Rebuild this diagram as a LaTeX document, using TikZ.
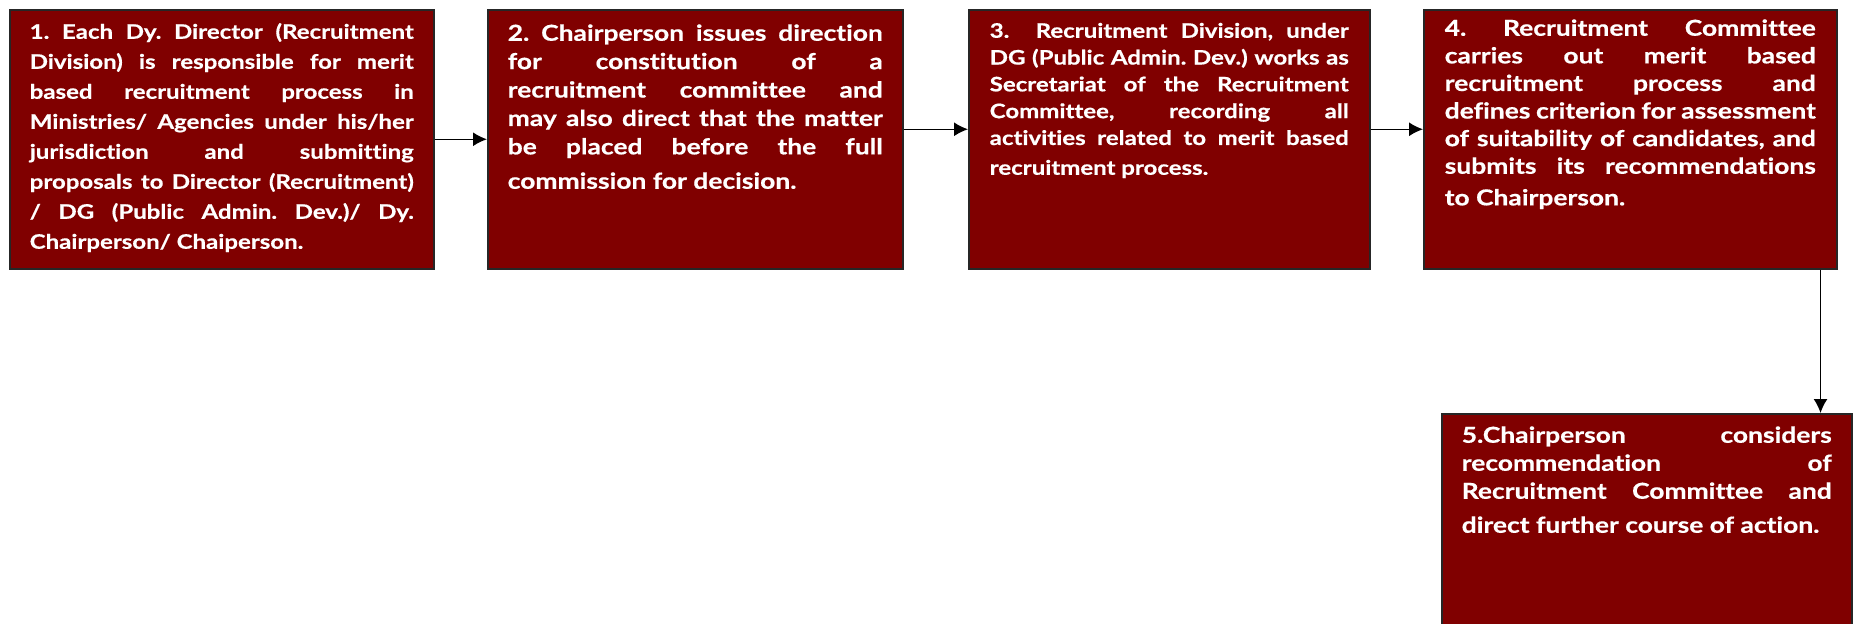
\documentclass[tikz,border=0pt]{standalone}
\usepackage{fontspec}
\newfontfamily\flowfont{Lato}[FakeStretch=1.2, FakeBold=0.6, Ligatures=NoCommon]
\usetikzlibrary{arrows.meta}
\definecolor{boxred}{RGB}{128,0,0}
\newcommand\lastgap[1]{\vadjust{\vskip#1}}

\begin{document}
\begin{tikzpicture}[
    stepbox/.style={
        draw=black!85, line width=0.75pt, fill=boxred, text=white,
        anchor=north west, align=justify, inner ysep=0pt,
        execute at begin node={\tolerance=10000\hyphenpenalty=10000\frenchspacing},
        font=\flowfont\bfseries\fontsize{11pt}{#1}\selectfont
    },
    stepbox/.default=14pt,
    smaller/.style={font=\flowfont\bfseries\fontsize{10pt}{#1}\selectfont},
    flow/.style={-{Latex[length=7pt,width=7pt]}, line width=0.75pt}
]
\useasboundingbox (0,0) rectangle (928pt,-311.5pt);

% top row
\node[stepbox, smaller=15pt, inner xsep=10pt, text width=192pt, text height=14.5pt, text depth=115pt]
    (step1) at (4.5pt,-4.5pt) {1. Each Dy. Director (Recruitment\linebreak
    Division) is responsible for merit\linebreak
    based recruitment process in\linebreak
    Ministries/ Agencies under his/her\linebreak
    jurisdiction and submitting\linebreak
    proposals to Director (Recruitment)\linebreak
    / DG (Public Admin. Dev.)/ Dy.\linebreak
    Chairperson/ Chaiperson.};
\node[stepbox=14.2pt, inner xsep=10pt, text width=187.5pt, text height=15.5pt, text depth=114pt]
    (step2) at (243.5pt,-4.5pt) {2. Chairperson issues direction\linebreak
    for constitution of a\linebreak
    recruitment committee and\linebreak
    may also direct that the matter\linebreak
    be placed before the full\lastgap{3pt}\linebreak
    commission for decision.};
\node[stepbox, smaller=13.4pt, inner xsep=10.5pt, text width=179.5pt, text height=14pt, text depth=115.5pt]
    (step3) at (484pt,-4.5pt) {3. \ Recruitment Division, under\linebreak
    DG (Public Admin. Dev.) works as\linebreak
    Secretariat of the Recruitment\linebreak
    Committee, recording all\linebreak
    activities related to merit based\lastgap{1.5pt}\linebreak
    recruitment process.};
\node[stepbox=13.8pt, inner xsep=10.5pt, text width=185.5pt, text height=13pt, text depth=116.5pt]
    (step4) at (711.5pt,-4.5pt) {4. Recruitment Committee\linebreak
    carries out merit based\linebreak
    recruitment process and\linebreak
    defines criterion for assessment\linebreak
    of suitability of candidates, and\linebreak
    submits its recommendations\lastgap{2pt}\linebreak
    to Chairperson.};

% last step below
\node[stepbox=14pt, inner xsep=10pt, text width=185pt, text height=14.5pt, text depth=92pt]
    (step5) at (720.5pt,-206.5pt) {5.Chairperson considers\linebreak
    recommendation of\linebreak
    Recruitment Committee and\lastgap{3pt}\linebreak
    direct further course of action.};

\draw[flow] (step1.east) -- (step2.west);
\draw[flow] ([yshift=5pt]step2.east) -- ([yshift=5pt]step3.west);
\draw[flow] ([yshift=5pt]step3.east) -- ([yshift=5pt]step4.west);
\draw[flow] ([xshift=-8.5pt]step4.south east) -- ([xshift=-8.5pt]step4.south east |- step5.north);
\end{tikzpicture}
\end{document}
